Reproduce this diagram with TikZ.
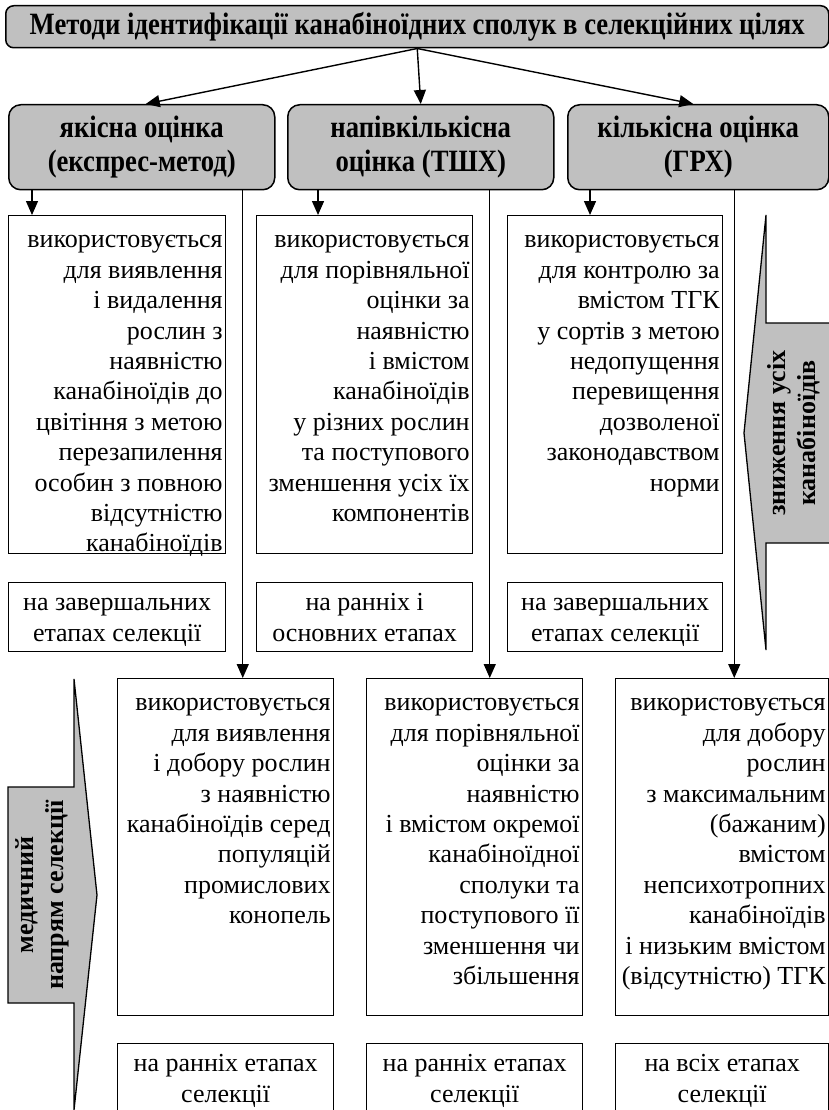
\documentclass[tikz,border=0pt]{standalone}
\usepackage{fontspec}
\setmainfont{Liberation Serif}
\newfontfamily\condfont{Liberation Serif}[FakeStretch=0.86]
\usetikzlibrary{arrows.meta,calc}
\definecolor{boxgray}{HTML}{C0C0C0}
\newcommand{\bodyfont}{\fontsize{26}{30.4}\selectfont}
\newcommand{\boxtext}[3]{\parbox[c][#2][t]{#1}{\bodyfont\vspace*{11pt}\raggedleft\rightskip=3pt\relax\strut #3}}
\newcommand{\stagetext}[3]{\parbox[c][#2][t]{#1}{\bodyfont\vspace*{7pt}\centering\strut #3}}
\tikzset{
  topbox/.style={draw, line width=1.5pt, fill=boxgray, rounded corners=12pt, align=center,
    inner sep=0pt, font=\condfont\bfseries\fontsize{31}{34}\selectfont, anchor=north west},
  titlebox/.style={draw, line width=1.5pt, fill=boxgray, rounded corners=8pt, align=center,
    inner sep=0pt, font=\condfont\bfseries\fontsize{31}{34}\selectfont, anchor=north west},
  descbox/.style={draw, line width=1.3pt, inner sep=0pt, anchor=north west},
  arr/.style={line width=1.4pt, -{Triangle[length=14pt,width=12pt]}},
  sidearrow/.style={draw, line width=1.3pt, fill=boxgray, line join=miter},
  sidetext/.style={rotate=90, align=center, font=\bfseries\fontsize{26}{30}\selectfont}
}
\begin{document}
\begin{tikzpicture}[x=1pt,y=-1pt]
\useasboundingbox (0,0) rectangle (829,1110);
% title
\node[titlebox, minimum width=823pt, minimum height=42pt] (T) at (5,5)
  {Методи ідентифікації канабіноїдних сполук в селекційних цілях};
% method boxes
\node[topbox, minimum width=266pt, minimum height=85pt] (G1) at (8,104) {якісна оцінка\\(експрес-метод)};
\node[topbox, minimum width=266pt, minimum height=85pt] (G2) at (287,104) {напівкількісна\\оцінка (ТШХ)};
\node[topbox, minimum width=261pt, minimum height=85pt] (G3) at (567,104) {кількісна оцінка\\(ГРХ)};
\draw[arr] (T.south) -- ([xshift=4pt]G1.north);
\draw[arr] (T.south) -- (G2.north);
\draw[arr] (T.south) -- ([xshift=-5pt]G3.north);
% upper description boxes
\node[descbox] (A) at (8,215) {\boxtext{217pt}{338pt}{використовується\\для виявлення\\і видалення\\рослин з\\наявністю\\канабіноїдів до\\цвітіння з метою\\перезапилення\\особин з повною\\відсутністю\\канабіноїдів}};
\node[descbox] (B) at (256,215) {\boxtext{216pt}{338pt}{використовується\\для порівняльної\\оцінки за\\наявністю\\і вмістом\\канабіноїдів\\у різних рослин\\та поступового\\зменшення усіх їх\\компонентів}};
\node[descbox] (C) at (507,215) {\boxtext{215pt}{338pt}{використовується\\для контролю за\\вмістом ТГК\\у сортів з метою\\недопущення\\перевищення\\дозволеної\\законодавством\\норми}};
% upper stage boxes
\node[descbox] (A2) at (8,582) {\stagetext{217pt}{69pt}{на завершальних\\етапах селекції}};
\node[descbox] (B2) at (256,582) {\stagetext{216pt}{69pt}{на ранніх і\\основних етапах}};
\node[descbox] (C2) at (507,582) {\stagetext{215pt}{69pt}{на завершальних\\етапах селекції}};
% lower description boxes
\node[descbox] (D) at (117,678) {\boxtext{216pt}{337pt}{використовується\\для виявлення\\і добору рослин\\з наявністю\\канабіноїдів серед\\популяцій\\промислових\\конопель}};
\node[descbox] (E) at (366,678) {\boxtext{216pt}{337pt}{використовується\\для порівняльної\\оцінки за\\наявністю\\і вмістом окремої\\канабіноїдної\\сполуки та\\поступового її\\зменшення чи\\збільшення}};
\node[descbox] (F) at (615,678) {\boxtext{213pt}{337pt}{використовується\\для добору\\рослин\\з максимальним\\(бажаним)\\вмістом\\непсихотропних\\канабіноїдів\\і низьким вмістом\\(відсутністю) ТГК}};
% lower stage boxes
\node[descbox] (D2) at (117,1043) {\stagetext{216pt}{67pt}{на ранніх етапах\\селекції}};
\node[descbox] (E2) at (366,1043) {\stagetext{216pt}{67pt}{на ранніх етапах\\селекції}};
\node[descbox] (F2) at (615,1043) {\stagetext{213pt}{67pt}{на всіх етапах\\селекції}};
% short arrows
\draw[arr] ([xshift=24pt]G1.south west) -- ([xshift=24pt]G1.south west |- A.north);
\draw[arr] ([xshift=31pt]G2.south west) -- ([xshift=31pt]G2.south west |- B.north);
\draw[arr] ([xshift=23pt]G3.south west) -- ([xshift=23pt]G3.south west |- C.north);
% long arrows
\draw[arr] ([xshift=101pt]G1.south) -- ([xshift=101pt]G1.south |- D.north);
\draw[arr] ([xshift=69pt]G2.south) -- ([xshift=69pt]G2.south |- E.north);
\draw[arr] ([xshift=36pt]G3.south) -- ([xshift=36pt]G3.south |- F.north);
% side arrows
\path[sidearrow] (829,323) -- (766,323) -- (766,215) -- (744,433) -- (766,650) -- (766,543) -- (829,543);
\node[sidetext] (R) at (794,433) {зниження усіх\\канабіноїдів};
\path[sidearrow] (74,787) -- (74,679) -- (97,895) -- (74,1110) -- (74,1003) -- (8,1003) -- (8,787) -- cycle;
\node[sidetext] (L) at (42,895) {медичний\\напрям селекції};
\end{tikzpicture}
\end{document}
